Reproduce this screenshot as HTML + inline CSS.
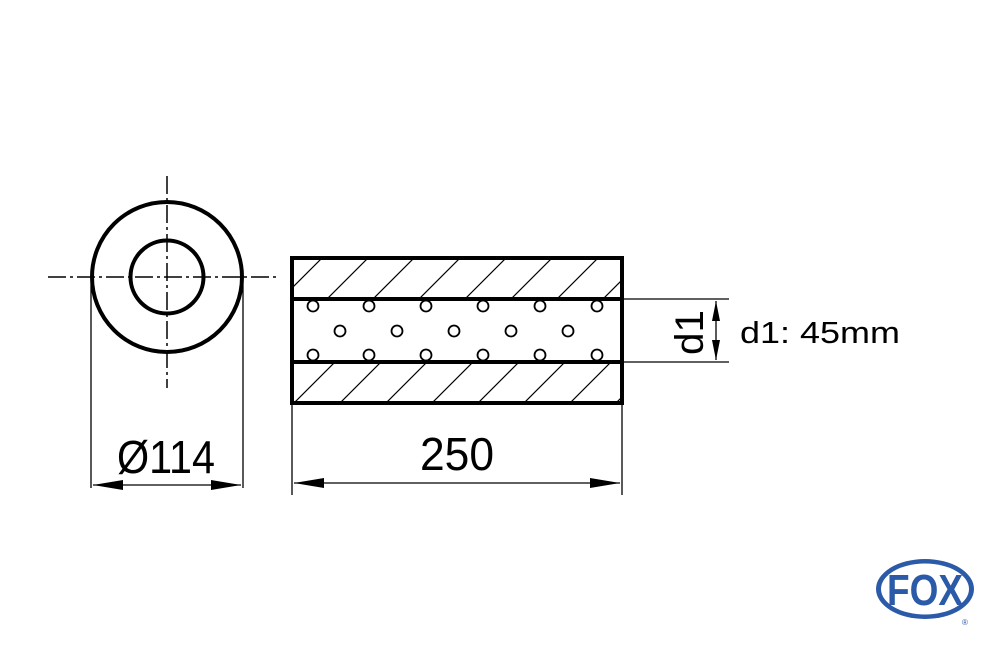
<!DOCTYPE html>
<html><head><meta charset="utf-8"><style>html,body{margin:0;padding:0;background:#fff}</style></head>
<body>
<svg width="1000" height="645" viewBox="0 0 1000 645" xmlns="http://www.w3.org/2000/svg" font-family="Liberation Sans, sans-serif">
<defs>
<clipPath id="cT"><rect x="292" y="258" width="330" height="41"/></clipPath>
<clipPath id="cB"><rect x="292" y="362" width="330" height="41"/></clipPath>
</defs>
<rect width="1000" height="645" fill="#fff"/>
<g stroke="#000" fill="none">
<line x1="48" y1="277" x2="278" y2="277" stroke-width="1.5" stroke-dasharray="18,4,3,4"/>
<line x1="167" y1="176" x2="167" y2="388" stroke-width="1.5" stroke-dasharray="18,4,3,4"/>
<circle cx="167" cy="277" r="75" stroke-width="4"/>
<circle cx="167" cy="277" r="36.5" stroke-width="4"/>
<line x1="91" y1="285" x2="91" y2="488" stroke-width="1.3"/>
<line x1="243" y1="285" x2="243" y2="488" stroke-width="1.3"/>
<line x1="93" y1="485" x2="241" y2="485" stroke-width="1.3"/>
<line x1="292" y1="405" x2="292" y2="495" stroke-width="1.3"/>
<line x1="622" y1="405" x2="622" y2="495" stroke-width="1.3"/>
<line x1="294" y1="483" x2="620" y2="483" stroke-width="1.3"/>
<g clip-path="url(#cT)" stroke-width="1.2">
<path d="M270,310 l60,-60 M316,310 l60,-60 M362,310 l60,-60 M408,310 l60,-60 M454,310 l60,-60 M500,310 l60,-60 M546,310 l60,-60 M592,310 l60,-60"/>
</g>
<g clip-path="url(#cB)" stroke-width="1.2">
<path d="M282,415 l60,-60 M328,415 l60,-60 M374,415 l60,-60 M420,415 l60,-60 M466,415 l60,-60 M512,415 l60,-60 M558,415 l60,-60 M604,415 l60,-60"/>
</g>
<rect x="292" y="258" width="330" height="145" stroke-width="4"/>
<line x1="292" y1="299" x2="622" y2="299" stroke-width="4"/>
<line x1="292" y1="362" x2="622" y2="362" stroke-width="4"/>
<g stroke-width="1.8">
<circle cx="313" cy="306" r="5.5"/><circle cx="369" cy="306" r="5.5"/><circle cx="426" cy="306" r="5.5"/><circle cx="483" cy="306" r="5.5"/><circle cx="540" cy="306" r="5.5"/><circle cx="597" cy="306" r="5.5"/>
<circle cx="340" cy="331" r="5.5"/><circle cx="397" cy="331" r="5.5"/><circle cx="454" cy="331" r="5.5"/><circle cx="511" cy="331" r="5.5"/><circle cx="568" cy="331" r="5.5"/>
<circle cx="313" cy="355" r="5.5"/><circle cx="369" cy="355" r="5.5"/><circle cx="426" cy="355" r="5.5"/><circle cx="483" cy="355" r="5.5"/><circle cx="540" cy="355" r="5.5"/><circle cx="597" cy="355" r="5.5"/>
</g>
<line x1="624" y1="299" x2="729" y2="299" stroke-width="1.3"/>
<line x1="624" y1="362" x2="729" y2="362" stroke-width="1.3"/>
<line x1="716" y1="301" x2="716" y2="360" stroke-width="1.3"/>
</g>
<g fill="#000">
<path d="M93,485 l30,-5 v10z M241,485 l-30,-5 v10z"/>
<path d="M294,483 l30,-5 v10z M620,483 l-30,-5 v10z"/>
<path d="M716,301 l-4,20 h8z M716,360 l-4,-20 h8z"/>
</g>
<text x="117" y="473" font-size="46" textLength="98" lengthAdjust="spacingAndGlyphs">Ø114</text>
<text x="420" y="470" font-size="46" textLength="74" lengthAdjust="spacingAndGlyphs">250</text>
<text transform="translate(703,355) rotate(-90)" font-size="40" textLength="45" lengthAdjust="spacingAndGlyphs">d1</text>
<text x="740" y="343" font-size="31" textLength="160" lengthAdjust="spacingAndGlyphs">d1: 45mm</text>
<ellipse cx="925" cy="589" rx="49" ry="30" fill="#2a5aa8"/>
<ellipse cx="925" cy="589" rx="44" ry="25.5" fill="#fff"/>
<text x="925" y="605" font-size="44" font-weight="bold" fill="#2a5aa8" text-anchor="middle" textLength="76" lengthAdjust="spacingAndGlyphs">FOX</text>
<text x="962" y="625" font-size="8" fill="#2a5aa8">®</text>
</svg>
</body></html>
